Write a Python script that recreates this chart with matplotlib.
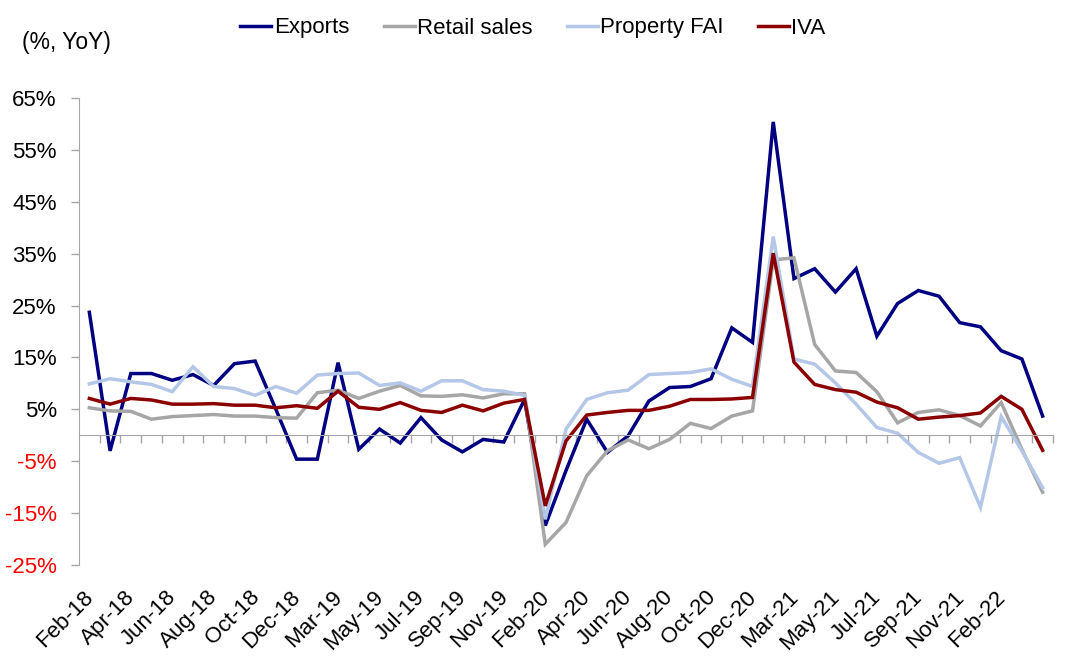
import matplotlib
matplotlib.use("Agg")
import matplotlib.pyplot as plt
from matplotlib.transforms import blended_transform_factory

plt.rcParams['font.family'] = ['Liberation Sans', 'DejaVu Sans']

# months (Jan is merged into Feb, so no Jan entries)
months = [
    "Feb-18", "Mar-18", "Apr-18", "May-18", "Jun-18", "Jul-18", "Aug-18", "Sep-18", "Oct-18", "Nov-18", "Dec-18",
    "Feb-19", "Mar-19", "Apr-19", "May-19", "Jun-19", "Jul-19", "Aug-19", "Sep-19", "Oct-19", "Nov-19", "Dec-19",
    "Feb-20", "Mar-20", "Apr-20", "May-20", "Jun-20", "Jul-20", "Aug-20", "Sep-20", "Oct-20", "Nov-20", "Dec-20",
    "Feb-21", "Mar-21", "Apr-21", "May-21", "Jun-21", "Jul-21", "Aug-21", "Sep-21", "Oct-21", "Nov-21", "Dec-21",
    "Feb-22", "Mar-22", "Apr-22",
]

exports = [
    23.7, -3.0, 11.9, 11.9, 10.6, 11.7, 9.6, 13.8, 14.3, 5.0, -4.6,
    -4.6, 14.0, -2.7, 1.2, -1.5, 3.4, -0.9, -3.2, -0.8, -1.3, 6.9,
    -17.4, -6.8, 3.1, -3.3, -0.1, 6.6, 9.2, 9.4, 10.9, 20.7, 17.9,
    60.4, 30.2, 32.1, 27.6, 32.1, 19.1, 25.4, 27.9, 26.8, 21.7, 20.9,
    16.3, 14.7, 3.7,
]

retail = [
    5.3, 4.7, 4.6, 3.1, 3.6, 3.8, 4.0, 3.7, 3.7, 3.4, 3.3,
    8.2, 8.7, 7.1, 8.5, 9.6, 7.6, 7.5, 7.8, 7.2, 8.0, 8.0,
    -21.0, -16.8, -7.8, -3.0, -0.9, -2.6, -0.8, 2.3, 1.3, 3.7, 4.7,
    33.8, 34.2, 17.5, 12.4, 12.1, 8.4, 2.4, 4.4, 4.9, 3.8, 1.8,
    6.3, -2.7, -11.0,
]

property_fai = [
    9.9, 10.9, 10.3, 9.8, 8.4, 13.2, 9.4, 9.0, 7.7, 9.4, 8.1,
    11.6, 11.9, 12.0, 9.6, 10.1, 8.5, 10.5, 10.5, 8.8, 8.5, 7.7,
    -16.2, 1.2, 6.9, 8.2, 8.7, 11.7, 11.9, 12.1, 12.8, 10.8, 9.4,
    38.3, 14.7, 13.7, 10.1, 6.0, 1.5, 0.4, -3.3, -5.4, -4.3, -13.9,
    3.6, -3.0, -10.1,
]

iva = [
    7.1, 6.0, 7.1, 6.8, 6.0, 6.0, 6.1, 5.8, 5.8, 5.3, 5.7,
    5.2, 8.5, 5.4, 5.0, 6.3, 4.8, 4.4, 5.8, 4.7, 6.2, 6.9,
    -13.6, -1.1, 3.9, 4.4, 4.8, 4.8, 5.6, 6.9, 6.9, 7.0, 7.3,
    35.1, 14.1, 9.8, 8.8, 8.3, 6.4, 5.3, 3.1, 3.5, 3.8, 4.3,
    7.5, 5.0, -2.9,
]

# every other month gets a label
label_idx = list(range(0, len(months), 2))[:-1]
yticks = [-25, -15, -5, 5, 15, 25, 35, 45, 55, 65]

series = [
    ("Exports", exports, "#000080"),
    ("Retail sales", retail, "#A6A6A6"),
    ("Property FAI", property_fai, "#B4C7E7"),
    ("IVA", iva, "#8B0000"),
]

fs = 16

fig = plt.figure(figsize=(10.8, 6.63), dpi=100)
ax = fig.add_axes([79 / 1080, 98 / 663, (1053 - 79) / 1080, (565 - 98) / 663])

x = list(range(len(months)))
for name, vals, col in series:
    ax.plot(x, vals, color=col, lw=2.5, label=name, solid_joinstyle="miter")

ax.set_xlim(-0.5, len(months) - 0.5)
ax.set_ylim(-25, 65)

# y axis
ax.set_yticks(yticks)
ax.set_yticklabels([f"{v}%" for v in yticks], fontsize=fs)
for lbl, v in zip(ax.get_yticklabels(), yticks):
    lbl.set_color("red" if v < 0 else "black")
ax.tick_params(axis="y", direction="out", length=6, width=1, color="#A6A6A6", pad=10)

# x axis sits at zero, labels stay at the bottom
for s in ["top", "right"]:
    ax.spines[s].set_visible(False)
ax.spines["left"].set_color("#A6A6A6")
ax.spines["bottom"].set_position(("data", 0))
ax.spines["bottom"].set_color("#A6A6A6")
ax.set_xticks([i + 0.5 for i in range(len(months))])
ax.set_xticklabels([])
ax.tick_params(axis="x", direction="out", length=6, width=1, color="#A6A6A6")

trans = blended_transform_factory(ax.transData, ax.transAxes)
for i in label_idx:
    ax.text(i + 0.05, -0.062, months[i], transform=trans, rotation=45,
            ha="right", va="center", rotation_mode="anchor", fontsize=fs)

fig.text(22 / 1080, 1 - 43 / 663, "(%, YoY)", fontsize=16.5, ha="left", va="center")

fig.legend(loc="center", bbox_to_anchor=(533 / 1080, 1 - 28 / 663), ncol=4, frameon=False,
           fontsize=fs, handlelength=1.4, handletextpad=0.1, columnspacing=1.55)

fig.savefig("out.png", dpi=100)
